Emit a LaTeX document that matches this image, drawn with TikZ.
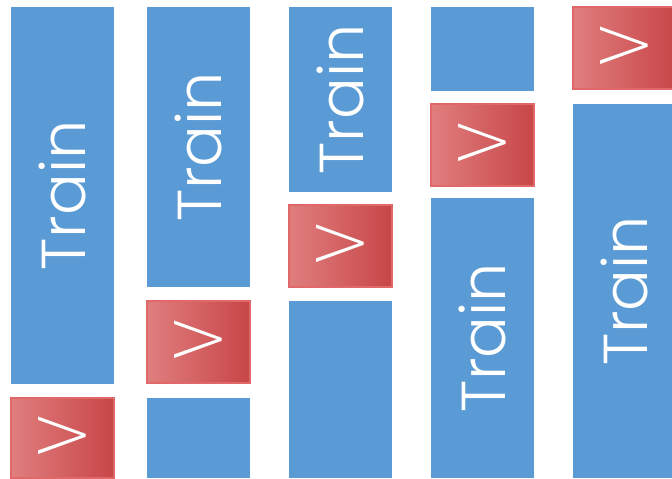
\documentclass[tikz,border=0pt]{standalone}
\usepackage{fontspec}
\usepackage{graphicx}
\usepackage{tikz}
\newfontfamily\foldfont{Poppins}[UprightFont=* Light]
\newfontfamily\gtfont{DejaVu Sans}[UprightFont=* ExtraLight]

\definecolor{trainblue}{RGB}{91,155,213}
\definecolor{valleft}{RGB}{224,126,126}
\definecolor{valright}{RGB}{200,70,72}
\definecolor{valedge}{RGB}{224,104,104}

\begin{document}
\begin{tikzpicture}[
    x=1pt, y=-1pt,
    blk/.style={anchor=north west, minimum width=103pt, inner sep=0pt,
                outer sep=0pt, text=white},
    trainbox/.style={blk, fill=trainblue, font=\foldfont\fontsize{62}{62}\selectfont},
    valbox/.style={blk, left color=valleft, right color=valright, draw=valedge,
                   line width=1.2pt, font=\gtfont\fontsize{76}{76}\selectfont},
    restbox/.style={blk, fill=trainblue}
  ]
    \useasboundingbox (0,0) rectangle (672,479);
    % fold 1
    \node[trainbox, minimum height=377pt] (t1) at (11,7) {\rotatebox{90}{Train}};
    \node[valbox, minimum height=80pt] (v1) at (11,398) {>};
    % fold 2
    \node[trainbox, minimum height=280pt] (t2) at (147,7) {\rotatebox{90}{Train}};
    \node[valbox, minimum height=82pt] (v2) at (147,301) {>};
    \node[restbox, minimum height=80pt] (r2) at (147,398) {};
    % fold 3
    \node[trainbox, minimum height=185pt] (t3) at (289,7) {\rotatebox{90}{Train}};
    \node[valbox, minimum height=82pt] (v3) at (289,205) {>};
    \node[restbox, minimum height=177pt] (r3) at (289,301) {};
    % fold 4
    \node[restbox, minimum height=84pt] (r4) at (431,7) {};
    \node[valbox, minimum height=82pt] (v4) at (431,104) {>};
    \node[trainbox, minimum height=280pt] (t4) at (431,198) {\rotatebox{90}{Train}};
    % fold 5
    \node[valbox, minimum height=82pt] (v5) at (573,7) {>};
    \node[trainbox, minimum height=374pt] (t5) at (573,104) {\rotatebox{90}{Train}};
  \end{tikzpicture}
\end{document}
